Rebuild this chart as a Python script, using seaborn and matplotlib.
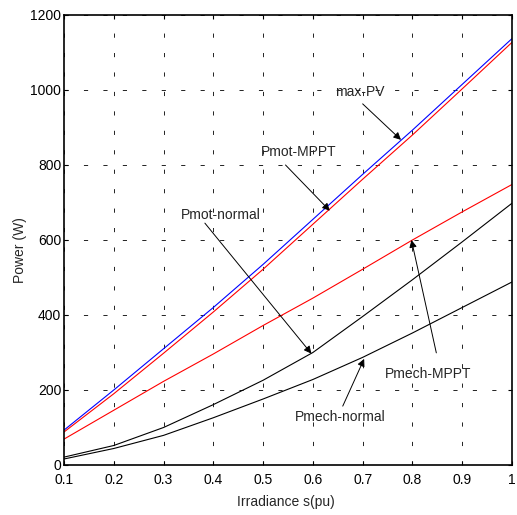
import numpy as np
import pandas as pd
import matplotlib
matplotlib.use('Agg')
import matplotlib.pyplot as plt
import seaborn as sns

# values
irradiance = [0.1, 0.2, 0.3, 0.4, 0.5, 0.6, 0.7, 0.8, 0.9, 1.0]
max_pv = [93, 200, 310, 420, 535, 655, 775, 893, 1015, 1137]
pmot_mppt = [88, 190, 298, 408, 522, 642, 762, 880, 1003, 1127]
pmot_normal = [69, 146, 223, 296, 372, 445, 522, 600, 675, 748]
pmech_mppt = [21, 52, 100, 161, 226, 300, 396, 494, 595, 698]
pmech_normal = [16, 44, 79, 126, 176, 228, 287, 352, 420, 488]

xticks = [0.1, 0.2, 0.3, 0.4, 0.5, 0.6, 0.7, 0.8, 0.9, 1.0]
xticklabels = ['0.1', '0.2', '0.3', '0.4', '0.5', '0.6', '0.7', '0.8', '0.9', '1']
yticks = [0, 200, 400, 600, 800, 1000, 1200]

# annotations: label, arrow tail, arrow tip
notes = [
    ('max-PV', (0.70, 963), (0.777, 867)),
    ('Pmot-MPPT', (0.545, 800), (0.634, 678)),
    ('Pmot-normal', (0.383, 645), (0.597, 297)),
    ('Pmech-MPPT', (0.848, 299), (0.798, 600)),
    ('Pmech-normal', (0.660, 157), (0.703, 283)),
]
label_pos = {'max-PV': (0.695, 995), 'Pmot-MPPT': (0.572, 835),
             'Pmot-normal': (0.415, 667), 'Pmech-MPPT': (0.832, 243),
             'Pmech-normal': (0.655, 127)}

sns.set_style('ticks')
plt.rcParams['font.family'] = ['Liberation Sans', 'DejaVu Sans']
plt.rcParams['font.size'] = 10
plt.rcParams['lines.scale_dashes'] = False

fig = plt.figure(figsize=(5.17, 5.15), dpi=100)
ax = fig.add_axes([0.1238, 0.0971, 0.8665, 0.8738])

df = pd.DataFrame({'s': irradiance, 'max-PV': max_pv, 'Pmot-MPPT': pmot_mppt,
                   'Pmot-normal': pmot_normal, 'Pmech-MPPT': pmech_mppt,
                   'Pmech-normal': pmech_normal})
colors = {'max-PV': '#0000ff', 'Pmot-MPPT': '#ff0000', 'Pmot-normal': '#ff0000',
          'Pmech-MPPT': 'black', 'Pmech-normal': 'black'}
for name, c in colors.items():
    sns.lineplot(data=df, x='s', y=name, color=c, lw=0.8, ax=ax, legend=False)

ax.set_xlim(0.1, 1.0)
ax.set_ylim(0, 1200)
ax.set_xticks(xticks)
ax.set_xticklabels(xticklabels)
ax.set_yticks(yticks)
ax.grid(True, color='#222222', linestyle=(0, (3, 11)), linewidth=0.7)
ax.tick_params(direction='in', top=True, right=True, length=3, width=0.8,
               labelsize=10, colors='black')
ax.tick_params(axis='x', pad=6)
ax.tick_params(axis='y', pad=2)
for sp in ax.spines.values():
    sp.set_linewidth(1.2)
    sp.set_color('black')

ax.set_xlabel('Irradiance s(pu)', fontsize=10)
ax.set_ylabel('Power (W)', fontsize=10)
ax.xaxis.set_label_coords(0.495, -0.067)
ax.yaxis.set_label_coords(-0.083, 0.478)

for label, txt, tip in notes:
    ax.annotate('', xy=tip, xytext=txt,
                arrowprops=dict(arrowstyle='-|>', color='black', lw=0.7,
                                mutation_scale=11, shrinkA=0, shrinkB=0))

for label, (x, y) in label_pos.items():
    ax.text(x, y, label, ha='center', va='center', fontsize=10)

fig.savefig('out.png', dpi=100)
